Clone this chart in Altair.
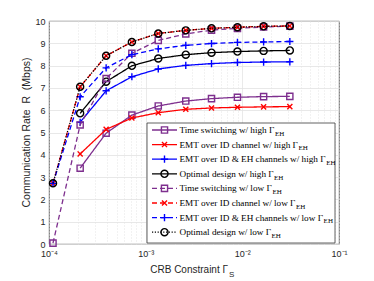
import altair as alt
import pandas as pd

# ---------------- data ----------------
crb = [1.1e-4, 2.1e-4, 3.9e-4, 7.2e-4, 1.35e-3, 2.6e-3, 4.8e-3, 8.9e-3, 1.66e-2, 3.1e-2]

ts_high = [None, 3.40, 4.97, 5.78, 6.19, 6.41, 6.52, 6.58, 6.61, 6.62]
emt_id_high = [None, 4.04, 5.14, 5.65, 5.89, 6.04, 6.10, 6.13, 6.15, 6.16]
emt_both_high = [None, 5.46, 6.87, 7.50, 7.85, 8.01, 8.09, 8.14, 8.16, 8.17]
opt_high = [None, 5.86, 7.28, 7.99, 8.32, 8.49, 8.58, 8.63, 8.66, 8.68]
ts_low = [0.04, 5.34, 7.42, 8.55, 9.13, 9.42, 9.59, 9.67, 9.73, 9.77]
emt_id_low = [2.72, 7.05, 8.44, 9.06, 9.44, 9.58, 9.67, 9.72, 9.76, 9.78]
emt_both_low = [2.72, 6.60, 7.90, 8.49, 8.75, 8.91, 8.99, 9.04, 9.06, 9.08]
opt_low = [2.72, 7.05, 8.44, 9.06, 9.44, 9.58, 9.67, 9.72, 9.76, 9.78]

series_labels = [
    "Time switching w/ high Γ",
    "EMT over ID channel w/ high Γ",
    "EMT over ID & EH channels w/ high Γ",
    "Optimal design w/ high Γ",
    "Time switching w/ low Γ",
    "EMT over ID channel w/ low Γ",
    "EMT over ID & EH channels w/ low Γ",
    "Optimal design w/ low Γ",
]
series_values = [ts_high, emt_id_high, emt_both_high, opt_high,
                 ts_low, emt_id_low, emt_both_low, opt_low]

x_ticks = [1e-4, 2e-4, 3e-4, 4e-4, 5e-4, 6e-4, 7e-4, 8e-4, 9e-4,
           1e-3, 2e-3, 3e-3, 4e-3, 5e-3, 6e-3, 7e-3, 8e-3, 9e-3,
           1e-2, 2e-2, 3e-2, 4e-2, 5e-2, 6e-2, 7e-2, 8e-2, 9e-2, 1e-1]
y_ticks = list(range(0, 11))

# ---------------- styles ----------------
PURPLE, RED, BLUE, BLACK = "#7E2F8E", "#FF0000", "#0000FF", "#000000"
X_PATH = "M-0.8,-0.8L0.8,0.8M-0.8,0.8L0.8,-0.8"
PLUS_PATH = "M-1,0L1,0M0,-1L0,1"
colors = [PURPLE, RED, BLUE, BLACK, PURPLE, RED, BLUE, BLACK]
shapes = ["square", X_PATH, PLUS_PATH, "circle"] * 2
sizes = [38, 40, 52, 50, 38, 40, 52, 50]
dashes = [[1, 0]] * 4 + [[5, 3]] * 3 + [[1.2, 1.6]]
SANS = "Liberation Sans, Arial, Helvetica, sans-serif"
SERIF = "Liberation Serif, Times New Roman, serif"
TXT = "#262626"

W, H = 290, 223
xscale = alt.Scale(type="log", domain=[1e-4, 1e-1], nice=False)
yscale = alt.Scale(domain=[0, 10], nice=False)

label_expr = ("datum.value == 0.0001 ? '10⁻⁴' : datum.value == 0.001 ? '10⁻³' : "
              "datum.value == 0.01 ? '10⁻²' : datum.value == 0.1 ? '10⁻¹' : ''")
xaxis = alt.Axis(values=x_ticks, labelExpr=label_expr, title=None, grid=True,
                 gridColor="#dedede", gridWidth=0.8,
                 gridDash={"condition": {"test": "datum.value == 0.001 || datum.value == 0.01",
                                         "value": [1, 0]},
                           "value": [1, 2]},
                 tickSize=0, domain=False, labelFont=SANS, labelFontSize=9,
                 labelColor=TXT, labelPadding=5, labelFlush=False, labelOverlap=False)
yaxis = alt.Axis(values=y_ticks, title=None, grid=True, gridColor="#e2e2e2",
                 gridWidth=0.8, tickSize=0, domain=False, labelFont=SANS,
                 labelFontSize=9, labelColor=TXT, labelPadding=4, labelFlush=False)

layers = []
for i, (lab, vals) in enumerate(zip(series_labels, series_values)):
    df = pd.DataFrame({"crb": crb, "rate": vals}).dropna()
    base = alt.Chart(df).encode(
        x=alt.X("crb:Q", scale=xscale, axis=xaxis),
        y=alt.Y("rate:Q", scale=yscale, axis=yaxis),
    )
    layers.append(base.mark_line(color=colors[i], strokeWidth=1.3,
                                 strokeDash=dashes[i]))
    layers.append(base.mark_point(shape=shapes[i], size=sizes[i], filled=False,
                                  color=colors[i], strokeWidth=1.4, opacity=1))

one = pd.DataFrame({"k": [0]})

# ---------------- legend (drawn as marks) ----------------
TIMES = {' ': 250, 'T': 611, 'i': 278, 'm': 778, 'e': 444, 's': 389, 'w': 722,
         't': 278, 'c': 444, 'h': 500, 'n': 500, 'g': 500, '/': 278, 'Γ': 578,
         'E': 611, 'M': 889, 'o': 500, 'v': 500, 'r': 333, 'I': 333, 'D': 722,
         '&': 778, 'H': 722, 'a': 444, 'l': 278, 'O': 722, 'p': 500, 'd': 500}
LFS = 9.2
lx0, lx1, ly0, ly1 = 98, 286, 102, 222
row0, rowstep = 109, 14.6
layers.append(alt.Chart(one).mark_rect(fill="white", stroke="#3a3a3a", strokeWidth=0.8)
              .encode(x=alt.value(lx0), x2=alt.value(lx1), y=alt.value(ly0), y2=alt.value(ly1)))
for i, lab in enumerate(series_labels):
    yy = row0 + rowstep * i
    layers.append(alt.Chart(one).mark_rule(color=colors[i], strokeWidth=1.3,
                                           strokeDash=dashes[i])
                  .encode(x=alt.value(103), x2=alt.value(128), y=alt.value(yy)))
    layers.append(alt.Chart(one).mark_point(shape=shapes[i], size=sizes[i], filled=False,
                                            color=colors[i], strokeWidth=1.4, opacity=1)
                  .encode(x=alt.value(115.5), y=alt.value(yy)))
    layers.append(alt.Chart(one).mark_text(font=SERIF, fontSize=LFS, color="black",
                                           align="left", baseline="middle")
                  .encode(x=alt.value(130.5), y=alt.value(yy), text=alt.value(lab)))
    wpx = sum(TIMES.get(ch, 500) for ch in lab) * LFS / 1000.0
    layers.append(alt.Chart(one).mark_text(font=SERIF, fontSize=7, color="black",
                                           align="left", baseline="middle")
                  .encode(x=alt.value(130.5 + wpx + 0.3), y=alt.value(yy + 3.8),
                          text=alt.value("EH")))

# ---------------- axis titles ----------------
layers.append(alt.Chart(one).mark_text(font=SANS, fontSize=10.5, color=TXT,
                                       align="center", baseline="middle", angle=270)
              .encode(x=alt.value(-22), y=alt.value(111.5),
                      text=alt.value("Communication Rate\u00a0\u00a0R\u00a0\u00a0(Mbps)")))
layers.append(alt.Chart(one).mark_text(font=SANS, fontSize=10, color=TXT,
                                       align="right", baseline="alphabetic")
              .encode(x=alt.value(179), y=alt.value(252),
                      text=alt.value("CRB Constraint Γ")))
layers.append(alt.Chart(one).mark_text(font=SANS, fontSize=8, color=TXT,
                                       align="left", baseline="alphabetic")
              .encode(x=alt.value(180), y=alt.value(256), text=alt.value("S")))

chart = (
    alt.layer(*layers)
    .properties(width=W, height=H,
                padding={"left": 41, "top": 13, "right": 25, "bottom": 35},
                autosize=alt.AutoSizeParams(type="none"))
    .configure_view(stroke="#404040", strokeWidth=0.8)
)

chart.save("out.html", embed_options={"renderer": "svg", "actions": False})
